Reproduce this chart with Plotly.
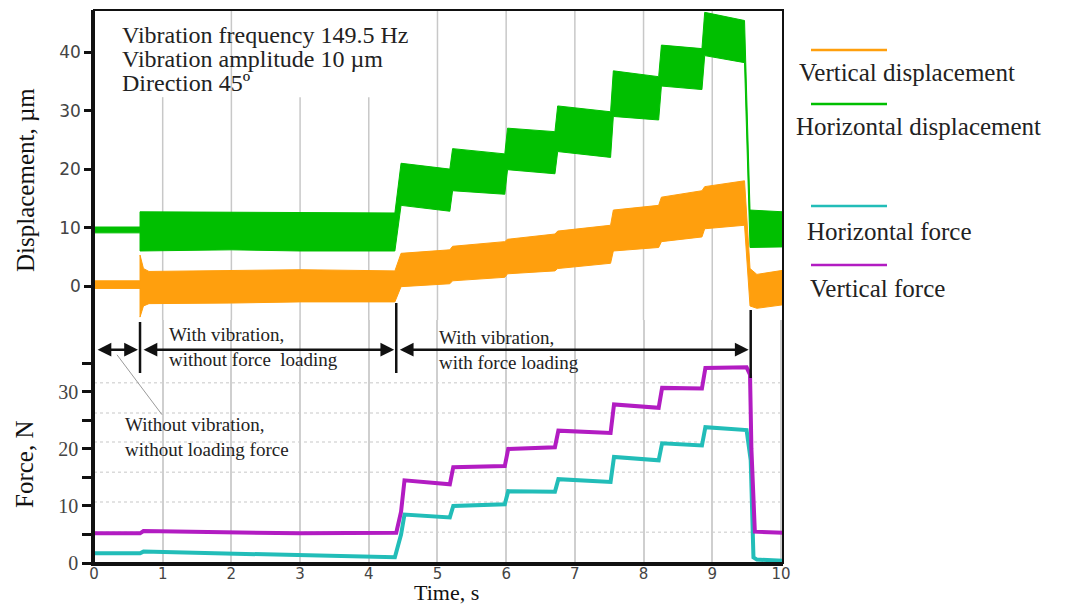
import plotly.graph_objects as go

# ---------------- data ----------------
# Horizontal displacement (green) - envelope of the vibration band, µm
green_t  = [0.0, 0.67, 0.67, 2.0, 3.0, 4.38, 4.47, 5.18, 5.22, 5.98, 6.02, 6.71, 6.75, 7.52, 7.56, 8.22, 8.26, 8.85, 8.89, 9.47, 9.55, 10.03]
green_hi = [10.1, 10.1, 12.7, 12.6, 12.6, 12.5, 21.0, 20.0, 23.5, 22.6, 27.0, 26.4, 30.8, 29.8, 36.8, 35.8, 41.2, 40.6, 46.8, 45.4, 13.0, 12.7]
green_lo = [9.1, 9.1, 6.0, 6.2, 6.0, 6.0, 13.8, 12.8, 16.3, 15.7, 19.9, 19.2, 23.0, 22.0, 29.0, 28.4, 34.2, 33.6, 39.4, 38.2, 6.6, 6.7]

# Vertical displacement (orange) - envelope of the vibration band, µm
orange_t  = [0.0, 0.67, 0.67, 0.72, 0.8, 2.0, 3.0, 4.38, 4.47, 5.18, 5.22, 5.98, 6.02, 6.71, 6.75, 7.52, 7.56, 8.22, 8.26, 8.85, 8.89, 9.47, 9.55, 9.65, 10.03]
orange_hi = [0.9, 0.9, 5.3, 3.0, 2.5, 2.6, 2.8, 2.6, 5.6, 6.2, 6.8, 7.6, 8.0, 8.9, 9.4, 10.4, 13.0, 13.8, 15.2, 16.3, 17.0, 18.0, 3.0, 2.0, 2.7]
orange_lo = [-0.4, -0.4, -5.3, -3.4, -3.0, -2.9, -2.7, -2.7, -0.1, 0.4, 0.9, 1.5, 2.1, 2.6, 3.0, 3.9, 6.0, 6.6, 7.6, 8.4, 9.8, 10.4, -3.4, -3.8, -3.2]

# Horizontal force (cyan), N
cyan_t = [0.0, 0.67, 0.72, 2.0, 3.0, 4.38, 4.47, 4.52, 5.18, 5.23, 5.98, 6.03, 6.71, 6.76, 7.52, 7.57, 8.22, 8.27, 8.85, 8.90, 9.50, 9.56, 9.60, 9.65, 10.03]
cyan_f = [1.7, 1.7, 2.0, 1.6, 1.3, 1.0, 5.0, 8.5, 8.0, 10.0, 10.3, 12.6, 12.5, 14.7, 14.2, 18.6, 18.0, 21.0, 20.6, 23.8, 23.3, 18.0, 1.0, 0.6, 0.4]

# Vertical force (magenta), N
mag_t = [0.0, 0.67, 0.72, 2.0, 3.0, 4.40, 4.47, 4.52, 5.18, 5.23, 5.98, 6.03, 6.71, 6.76, 7.52, 7.57, 8.22, 8.27, 8.85, 8.90, 9.50, 9.55, 9.57, 9.62, 10.03]
mag_f = [5.2, 5.2, 5.6, 5.3, 5.2, 5.3, 9.0, 14.5, 13.8, 16.8, 17.0, 20.0, 20.3, 23.2, 22.8, 27.8, 27.2, 30.7, 30.6, 34.2, 34.3, 33.0, 20.0, 5.5, 5.3]

# phase boundaries (s) and label texts
phase_t = [0.0, 0.67, 4.40, 9.56]
x_ticks = [0, 1, 2, 3, 4, 5, 6, 7, 8, 9, 10]
disp_ticks = [0, 10, 20, 30, 40]
force_ticks = [0, 10, 20, 30]
info_lines = ["Vibration frequency 149.5 Hz", "Vibration amplitude 10 µm", "Direction 45º"]
legend_names = ["Vertical displacement", "Horizontal displacement", "Horizontal force", "Vertical force"]

ORANGE = "#FF9F0D"
GREEN = "#00BF00"
CYAN = "#22BDB8"
MAGENTA = "#B21CC2"

X_RANGE = [0, 10.03]
DISP_RANGE = [-5.8, 47.2]
FORCE_RANGE = [0, 42.6]
SPLIT = 0.4394

SERIF = "Liberation Serif, Times New Roman, serif"
SANS = "DejaVu Sans, sans-serif"


def band(t, hi, lo, color):
    return go.Scatter(
        x=list(t) + list(t)[::-1],
        y=list(hi) + list(lo)[::-1],
        fill="toself", fillcolor=color, mode="lines",
        line=dict(color=color, width=1),
        xaxis="x", yaxis="y", hoverinfo="skip", showlegend=False,
    )


fig = go.Figure()
fig.add_trace(band(green_t, green_hi, green_lo, GREEN))
fig.add_trace(band(orange_t, orange_hi, orange_lo, ORANGE))
fig.add_trace(go.Scatter(x=cyan_t, y=cyan_f, mode="lines", line=dict(color=CYAN, width=4),
                         xaxis="x2", yaxis="y2", showlegend=False))
fig.add_trace(go.Scatter(x=mag_t, y=mag_f, mode="lines", line=dict(color=MAGENTA, width=4),
                         xaxis="x2", yaxis="y2", showlegend=False))


def px_x(px):
    return (px - 94) / 689


def px_y(py):
    return (563 - py) / 553


shapes = []
# vertical grid lines in displacement panel (hidden behind the info text for 1, 3, 4)
for t in range(1, 10):
    top = 32.3 if t in (1, 3, 4) else DISP_RANGE[1]
    shapes.append(dict(type="line", xref="x", yref="y", x0=t, x1=t, y0=DISP_RANGE[0], y1=top,
                       line=dict(color="#C8C8C8", width=1.5), layer="below"))
# dotted horizontal grid in force panel
for g in [5.4, 10.7, 15.9, 21.2, 26.3, 31.6]:
    shapes.append(dict(type="line", xref="x2", yref="y2", x0=0, x1=X_RANGE[1], y0=g, y1=g,
                       line=dict(color="#DADADA", width=1.5, dash="dot"), layer="below"))
# phase marker ticks
for t, y0, y1 in [(phase_t[1], px_y(373), px_y(322)), (phase_t[2], px_y(373), px_y(303)),
                  (phase_t[3], px_y(378), px_y(310))]:
    shapes.append(dict(type="line", xref="x2", yref="paper", x0=t, x1=t, y0=y0, y1=y1,
                       line=dict(color="#111", width=2.5)))
# leader line
shapes.append(dict(type="line", xref="x2", yref="y2", x0=0.335, y0=36.5, x1=0.99, y1=26.0,
                   line=dict(color="#9A9A9A", width=1)))
# frame
shapes.append(dict(type="rect", xref="paper", yref="paper", x0=0, x1=1, y0=0, y1=1,
                   line=dict(color="#111", width=2)))

annotations = []
# phase arrows
for a, b in zip(phase_t[:-1], phase_t[1:]):
    annotations.append(dict(x=b - 0.03, y=37.4, ax=a + 0.03, ay=37.4, xref="x2", yref="y2",
                            axref="x2", ayref="y2", text="", showarrow=True, arrowhead=2,
                            arrowside="end+start", arrowsize=1.1, arrowwidth=2.5, arrowcolor="#111"))
annotations += [
    dict(x=1.06, y=37.8, xref="x2", yref="y2", xanchor="left", yanchor="middle", showarrow=False,
         align="left", text="With vibration,<br>without force  loading",
         font=dict(family=SERIF, size=19, color="#222")),
    dict(x=4.99, y=37.4, xref="x2", yref="y2", xanchor="left", yanchor="middle", showarrow=False,
         align="left", text="With vibration,<br>with force loading",
         font=dict(family=SERIF, size=19, color="#222")),
    dict(x=0.42, y=22.1, xref="x2", yref="y2", xanchor="left", yanchor="middle", showarrow=False,
         align="left", text="Without vibration,<br>without loading force",
         font=dict(family=SERIF, size=19, color="#222")),
]
# info text
for line, py in zip(info_lines, [35, 59, 83]):
    annotations.append(dict(x=px_x(120), y=px_y(py), xref="paper", yref="paper",
                            xanchor="left", yanchor="middle", showarrow=False, text=line,
                            font=dict(family=SERIF, size=24, color="#222")))
# legend (line above text)
leg_colors = [ORANGE, GREEN, CYAN, MAGENTA]
leg_line_y = [50, 104, 206, 265]
leg_text_y = [72, 127, 232, 288]
leg_text_x = [797, 794, 805, 808]
for name, col, ly, ty, tx in zip(legend_names, leg_colors, leg_line_y, leg_text_y, leg_text_x):
    shapes.append(dict(type="line", xref="paper", yref="paper", x0=px_x(811), x1=px_x(887),
                       y0=px_y(ly), y1=px_y(ly), line=dict(color=col, width=2.5)))
    annotations.append(dict(x=px_x(tx), y=px_y(ty), xref="paper", yref="paper",
                            xanchor="left", yanchor="middle", showarrow=False, text=name,
                            font=dict(family=SERIF, size=25, color="#222")))
# axis titles
annotations += [
    dict(x=px_x(25), y=px_y(180), xref="paper", yref="paper", textangle=-90,
         xanchor="center", yanchor="middle",
         showarrow=False, text="Displacement, µm", font=dict(family=SERIF, size=25, color="#111")),
    dict(x=px_x(25), y=px_y(465), xref="paper", yref="paper", textangle=-90,
         xanchor="center", yanchor="middle",
         showarrow=False, text="Force, N", font=dict(family=SERIF, size=25, color="#111")),
    dict(x=px_x(446), y=px_y(607), xref="paper", yref="paper",
         xanchor="center", yanchor="bottom",
         showarrow=False, text="Time, s", font=dict(family=SERIF, size=22, color="#111")),
]

fig.update_layout(
    width=1070, height=607,
    margin=dict(l=94, r=287, t=10, b=44),
    paper_bgcolor="white", plot_bgcolor="white",
    showlegend=False,
    xaxis=dict(domain=[0, 1], range=X_RANGE, anchor="y", visible=False, showgrid=False, zeroline=False),
    yaxis=dict(domain=[SPLIT, 1], range=DISP_RANGE, anchor="x", tickvals=disp_ticks,
               showgrid=False, zeroline=False, showline=True, linecolor="#111", linewidth=2.5,
               ticks="outside", ticklen=7, tickwidth=2.5, tickcolor="#111",
               tickfont=dict(family=SANS, size=17, color="#444")),
    xaxis2=dict(domain=[0, 1], range=X_RANGE, anchor="y2", tickvals=x_ticks,
                showgrid=True, gridcolor="#CFCFCF", gridwidth=1.5, zeroline=False,
                showline=True, linecolor="#111", linewidth=3, ticks="", ticklabelstandoff=-5,
                tickfont=dict(family=SANS, size=15, color="#444")),
    yaxis2=dict(domain=[0, SPLIT], range=FORCE_RANGE, anchor="x2", tickvals=force_ticks,
                showgrid=False, zeroline=False, showline=True, linecolor="#111", linewidth=2.5,
                ticks="outside", ticklen=9, tickwidth=2.5, tickcolor="#111",
                minor=dict(tickvals=[5, 15, 25, 35], ticks="outside", ticklen=9, tickwidth=2.5,
                           tickcolor="#111", showgrid=False),
                tickfont=dict(family=SERIF, size=20, color="#444")),
    shapes=shapes,
    annotations=annotations,
)

fig.write_html("out.html")
